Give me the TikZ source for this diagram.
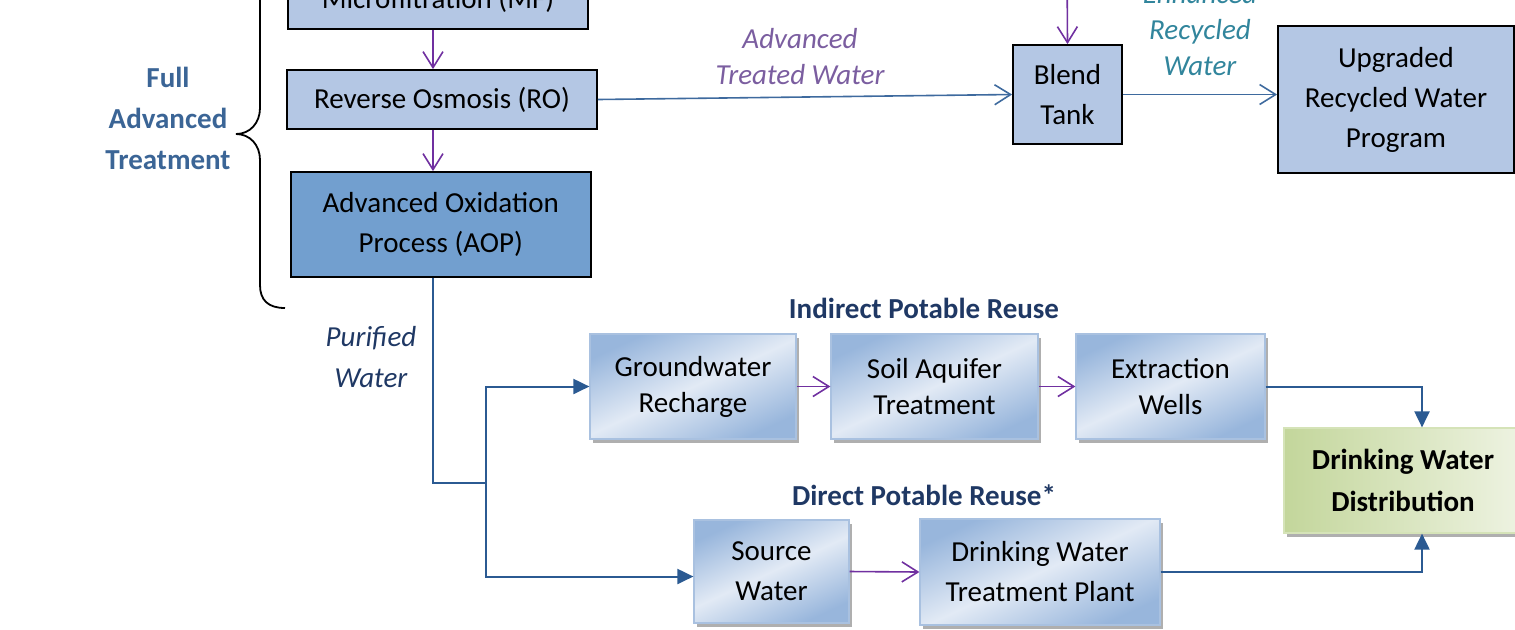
\documentclass[tikz,border=0pt]{standalone}
\usepackage{fontspec}
\setmainfont{Carlito}
\usetikzlibrary{positioning,shapes,arrows.meta,shadows,calc}
\definecolor{wrPlain}{HTML}{B4C7E4}
\definecolor{wrDeep}{HTML}{729FCF}
\definecolor{wrGradLight}{HTML}{E2EAF5}
\definecolor{wrGradDark}{HTML}{98B6DC}
\definecolor{wrGradEdge}{HTML}{A9C1E0}
\definecolor{wrGreenDark}{HTML}{C3D69B}
\definecolor{wrGreenLight}{HTML}{EEF3E2}
\definecolor{wrGreenEdge}{HTML}{D5E3B8}
\definecolor{wrSteel}{HTML}{3E6A9E}
\definecolor{wrPipe}{HTML}{2B5A92}
\definecolor{wrPurple}{HTML}{7030A0}
\definecolor{wrFat}{HTML}{3B6596}
\definecolor{wrNavy}{HTML}{1F3864}
\definecolor{wrLilac}{HTML}{7B5EA0}
\definecolor{wrTeal}{HTML}{31859C}
\tikzset{
    wrBoxBase/.style={
        rectangle,
        draw,
        line width=0.9pt,
        align=center,
        inner sep=0pt,
        font=\fontsize{14.5}{20}\selectfont
    },
    % Flat boxes of the treatment train
    plain/.style={wrBoxBase, fill=wrPlain},
    deep/.style={wrBoxBase, fill=wrDeep},
    % Shaded boxes of the reuse paths
    shaded/.style={wrBoxBase, draw=wrGradEdge, line width=0.6pt,
        top color=wrGradDark, bottom color=wrGradDark, middle color=wrGradLight,
        shading angle=25,
        drop shadow={shadow xshift=1.5pt, shadow yshift=-2pt, fill=gray!70, opacity=0.9}},
    greenShaded/.style={wrBoxBase, draw=wrGreenEdge, line width=0.6pt,
        left color=wrGreenDark, right color=wrGreenLight,
        drop shadow={shadow xshift=1.5pt, shadow yshift=-2pt, fill=gray!70, opacity=0.9}},
    % Arrows
    wrArrowBase/.style={line width=0.8pt, -{Straight Barb[length=8pt,width=10pt]}},
    stepArrow/.style={wrArrowBase, draw=wrPurple},
    feedArrow/.style={wrArrowBase, draw=wrSteel},
    pipeLine/.style={line width=1pt, draw=wrPipe},
    pipeArrow/.style={pipeLine, -{Triangle[length=8pt,width=7.5pt]}},
    % Labels
    wrLabel/.style={font=\fontsize{14.5}{18}\selectfont\itshape, align=center},
    wrHead/.style={font=\fontsize{14.5}{20.5}\selectfont\bfseries, align=center}
}
\begin{document}
\begin{tikzpicture}[x=0.5pt,y=-0.5pt]
    \useasboundingbox (0,0) rectangle (1515,629);
    \clip (0,0) rectangle (1515,629);

    % Full advanced treatment train
    \node[plain, minimum width=150pt, minimum height=29.5pt] (mf) at (438,-0.5) {Microfiltration (MF)};
    \node[plain, minimum width=155pt, minimum height=29.5pt] (ro) at (442,99.5) {Reverse Osmosis (RO)};
    \node[deep, minimum width=150pt, minimum height=52.5pt] (aop) at (440.75,224.5) {Advanced Oxidation\\Process (AOP)};

    \node[plain, minimum width=54.5pt, minimum height=49.5pt] (blend) at (1067.5,94.5) {Blend\\Tank};
    \node[plain, minimum width=118pt, minimum height=73.5pt] (upg) at (1396,99.5) {Upgraded\\Recycled Water\\Program};

    \draw[line width=0.9pt] (285,308) .. controls (268,308) and (260,300) .. (260,285) -- (260,160)
        .. controls (260,145) and (250,134) .. (236,134)
        .. controls (250,134) and (260,123) .. (260,108) -- (260,-17)
        .. controls (260,-32) and (268,-40) .. (285,-40);
    \node[wrHead, text=wrFat] (fat) at (168,118) {Full\\Advanced\\Treatment};

    \node[wrLabel, text=wrLilac] (atw) at (800,57) {Advanced\\Treated Water};
    \node[wrLabel, text=wrTeal] (erw) at (1200,30) {Enhanced\\Recycled\\Water};
    \node[wrLabel, text=wrNavy, font=\fontsize{14.5}{20.5}\selectfont\itshape] (pw) at (371,357) {Purified\\Water};

    % Potable reuse paths
    \node[wrHead, text=wrNavy] (ipr) at (924,308) {Indirect Potable Reuse};
    \node[wrHead, text=wrNavy] (dpr) at (924,495) {Direct Potable Reuse*};

    \node[shaded, font=\fontsize{14.5}{18}\selectfont, minimum width=103pt, minimum height=52.5pt] (gw) at (693,386.5) {Groundwater\\Recharge};
    \node[shaded, font=\fontsize{14.5}{18}\selectfont, minimum width=103.5pt, minimum height=52.5pt] (soil) at (934.5,386.5) {Soil Aquifer\\Treatment};
    \node[shaded, font=\fontsize{14.5}{18}\selectfont, minimum width=94.5pt, minimum height=52.5pt] (ext) at (1170.5,386.5) {Extraction\\Wells};
    \node[shaded, minimum width=77.5pt, minimum height=51.5pt] (src) at (771.5,571.5) {Source\\Water};
    \node[shaded, minimum width=120pt, minimum height=53pt] (dwtp) at (1040,572) {Drinking Water\\Treatment Plant};
    \node[greenShaded, font=\fontsize{14.5}{21}\selectfont\bfseries, minimum width=119pt, minimum height=52.5pt] (dwd) at (1403,480.5) {Drinking Water\\Distribution};

    \coordinate (spine) at (433,0);
    \coordinate (blendFeed) at (1067,-40);
    \coordinate (split) at (486,483);

    \draw[stepArrow] (mf.south -| spine) -- (ro.north -| spine);
    \draw[stepArrow] (ro.south -| spine) -- (aop.north -| spine);
    \draw[feedArrow] (ro.east) -- (blend.west);
    \draw[stepArrow] (blendFeed) -- (blend.north);
    \draw[feedArrow] (blend.east) -- (blend.east -| upg.west);

    \draw[pipeLine] (aop.south -| spine) |- (split);
    \draw[pipeArrow] (split) |- (gw.west);
    \draw[pipeArrow] (split) |- ($(src.west)+(0,5)$);
    \draw[stepArrow] (gw.east) -- (soil.west);
    \draw[stepArrow] (soil.east) -- (ext.west);
    \draw[stepArrow] (src.east) -- (dwtp.west);
    \draw[pipeArrow] (ext.east) -| ($(dwd.north)+(19,0)$);
    \draw[pipeArrow] (dwtp.east) -| ($(dwd.south)+(19,0)$);
\end{tikzpicture}
\end{document}
